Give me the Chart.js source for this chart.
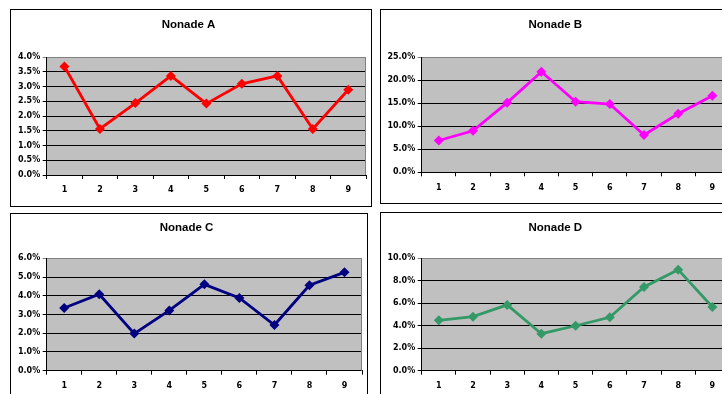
<!DOCTYPE html>
<html>
<head>
<meta charset="utf-8">
<script src="https://cdn.jsdelivr.net/npm/chart.js@4.4.0/dist/chart.umd.min.js"></script>
<style>
  html, body { margin: 0; padding: 0; background: #fff; width: 722px; height: 394px; overflow: hidden; }
  .panel { position: absolute; border: 1px solid #000; background: #fff; box-sizing: content-box; }
  .panel canvas { display: block; }
</style>
</head>
<body>
<div class="panel" id="pA"><canvas id="cA"></canvas></div>
<div class="panel" id="pB"><canvas id="cB"></canvas></div>
<div class="panel" id="pC"><canvas id="cC"></canvas></div>
<div class="panel" id="pD"><canvas id="cD"></canvas></div>
<script>
// Categories shared by all four panels
const categories = ['1', '2', '3', '4', '5', '6', '7', '8', '9'];

// Series values, in percent
const nonadeA = [3.68, 1.56, 2.44, 3.36, 2.42, 3.09, 3.36, 1.56, 2.89];
const nonadeB = [6.9, 9.0, 15.1, 21.8, 15.3, 14.8, 8.1, 12.7, 16.6];
const nonadeC = [3.35, 4.08, 1.98, 3.22, 4.61, 3.88, 2.44, 4.56, 5.25];
const nonadeD = [4.48, 4.81, 5.85, 3.29, 4.0, 4.75, 7.45, 8.99, 5.67];

// Titles and value axis ranges
const titles = ['Nonade A', 'Nonade B', 'Nonade C', 'Nonade D'];
const axisMax = [4, 25, 6, 10];
const axisStep = [0.5, 5, 1, 2];
const seriesColors = ['#FF0000', '#FF00FF', '#000080', '#339966'];

// Panel boxes and plot rectangles (canvas pixels)
const panels = [
  { id: 'A', x: 10,  y: 9,   w: 360, h: 196, L: 35.7, R: 355,   T: 47,   B: 165,   tc: 15 },
  { id: 'B', x: 380, y: 9,   w: 354, h: 193, L: 40.7, R: 348.5, T: 47,   B: 162.3, tc: 15 },
  { id: 'C', x: 10,  y: 213, w: 356, h: 200, L: 35.7, R: 351,   T: 44.3, B: 156.7, tc: 14.3 },
  { id: 'D', x: 380, y: 212, w: 354, h: 200, L: 40.7, R: 348.5, T: 45.3, B: 157.7, tc: 15.3 }
];
const seriesList = [nonadeA, nonadeB, nonadeC, nonadeD];

const plotBackground = {
  id: 'plotBackground',
  beforeDraw(chart) {
    const a = chart.chartArea, ctx = chart.ctx;
    ctx.save();
    ctx.fillStyle = '#C0C0C0';
    ctx.fillRect(a.left, a.top, a.right - a.left, a.bottom - a.top);
    ctx.restore();
  },
  beforeDatasetsDraw(chart) {
    const a = chart.chartArea, ctx = chart.ctx;
    ctx.save();
    ctx.strokeStyle = '#808080';
    ctx.lineWidth = 1;
    ctx.beginPath();
    ctx.moveTo(Math.round(a.right) - 0.5, a.top);
    ctx.lineTo(Math.round(a.right) - 0.5, a.bottom);
    ctx.stroke();
    ctx.restore();
  }
};

const tickFont = { family: 'DejaVu Sans', size: 8, weight: 'bold' };
const titleSize = 11.5;

panels.forEach((p, i) => {
  const box = document.getElementById('p' + p.id);
  box.style.left = p.x + 'px';
  box.style.top = p.y + 'px';
  box.style.width = p.w + 'px';
  box.style.height = p.h + 'px';
  const cv = document.getElementById('c' + p.id);
  cv.width = p.w;
  cv.height = p.h;
  cv.style.width = p.w + 'px';
  cv.style.height = p.h + 'px';

  const max = axisMax[i];
  new Chart(cv, {
    type: 'line',
    data: {
      labels: categories,
      datasets: [{
        data: seriesList[i],
        borderColor: seriesColors[i],
        backgroundColor: seriesColors[i],
        borderWidth: 2.8,
        tension: 0,
        pointStyle: 'rectRot',
        pointRadius: 5,
        pointBorderWidth: 0,
        pointBackgroundColor: seriesColors[i],
        fill: false
      }]
    },
    options: {
      responsive: false,
      animation: false,
      devicePixelRatio: 1,
      layout: { padding: { left: 0, right: p.w - p.R, top: 0, bottom: 0 } },
      plugins: {
        legend: { display: false },
        tooltip: { enabled: false },
        title: {
          display: true,
          text: titles[i],
          color: '#000',
          font: { family: 'Liberation Sans', size: titleSize, weight: 'bold', lineHeight: 1 },
          padding: { top: p.tc - titleSize / 2, bottom: p.T - (p.tc + titleSize / 2) }
        }
      },
      scales: {
        x: {
          type: 'category',
          offset: true,
          border: { color: '#000', width: 1 },
          grid: { offset: true, drawOnChartArea: false, drawTicks: true, tickLength: 4, color: '#000' },
          ticks: { color: '#000', font: tickFont, padding: 6.5, maxRotation: 0, autoSkip: false },
          afterFit(scale) { scale.height = p.h - p.B; }
        },
        y: {
          min: 0,
          max: max,
          border: { color: '#000', width: 1 },
          grid: {
            drawTicks: true,
            tickLength: 4,
            color: (c) => (c.tick && c.tick.value === max ? '#808080' : '#000')
          },
          ticks: {
            stepSize: axisStep[i],
            color: '#000',
            font: tickFont,
            padding: 2.5,
            callback: (v) => Number(v).toFixed(1) + '%'
          },
          afterFit(scale) { scale.width = p.L; }
        }
      }
    },
    plugins: [plotBackground]
  });
});
</script>
</body>
</html>
